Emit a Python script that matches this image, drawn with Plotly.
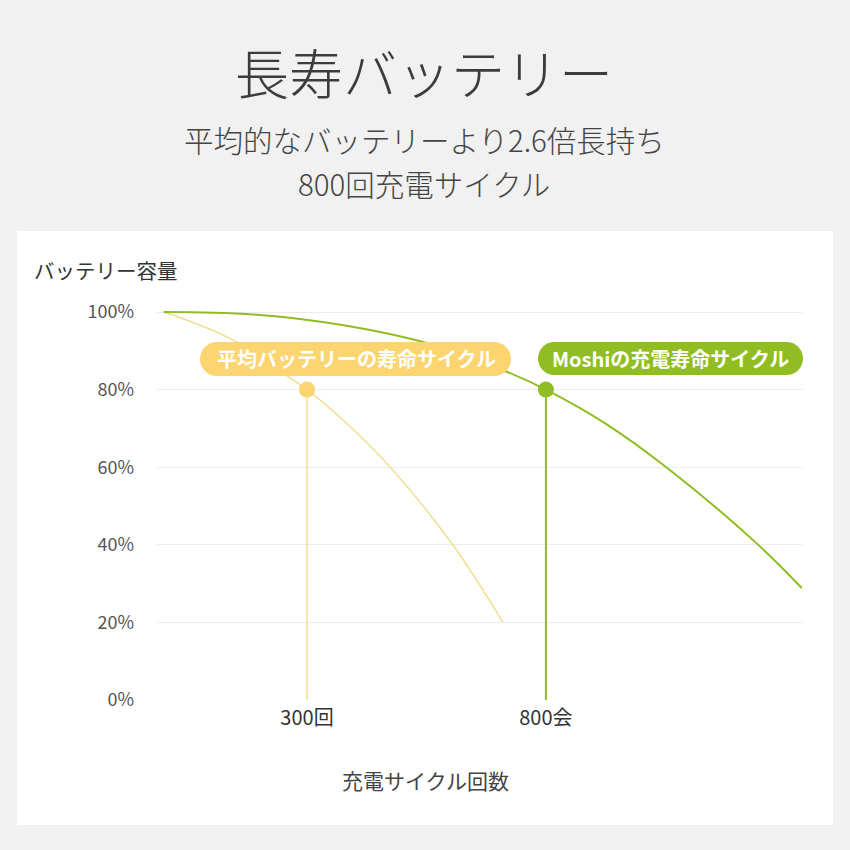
import plotly.graph_objects as go

# ---- data ----
y_ticks = [0, 20, 40, 60, 80, 100]
y_tick_labels = ["0%", "20%", "40%", "60%", "80%", "100%"]
x_ticks = [300, 800]
x_tick_labels = ["300回", "800会"]

avg_cycles = [0, 145, 264, 300, 390, 478, 605, 710]
avg_capacity = [100, 92.8, 83.0, 80, 70.5, 59.5, 40, 20]

moshi_cycles = [0, 250, 551, 718, 800, 928, 1052, 1240, 1336]
moshi_capacity = [100, 98.7, 92.0, 84.6, 80, 71.0, 60, 40.5, 28.8]

avg_life = 300
moshi_life = 800
life_capacity = 80

avg_label = "平均バッテリーの寿命サイクル"
moshi_label = "Moshiの充電寿命サイクル"

# ---- layout geometry ----
W = H = 850
ML, MR, MT, MB = 157, 48, 300, 150
PW = W - ML - MR
PH = H - MT - MB


def px(x):
    return (x - ML) / PW


def py(y):
    return (H - MB - y) / PH


FONT = "Noto Sans CJK JP, Noto Sans, sans-serif"
YELLOW = "#fcd470"
YELLOW_LINE = "#f2de93"
GREEN = "#8fbd22"

fig = go.Figure()

# drop lines
fig.add_trace(go.Scatter(x=[avg_life, avg_life], y=[life_capacity, 0], mode="lines",
                         line=dict(color=YELLOW_LINE, width=1.5), hoverinfo="skip"))
fig.add_trace(go.Scatter(x=[moshi_life, moshi_life], y=[life_capacity, 0], mode="lines",
                         line=dict(color=GREEN, width=2), hoverinfo="skip"))
# curves
fig.add_trace(go.Scatter(x=avg_cycles, y=avg_capacity, mode="lines",
                         line=dict(color=YELLOW_LINE, width=1.5, shape="spline", smoothing=1.1),
                         hoverinfo="skip"))
fig.add_trace(go.Scatter(x=moshi_cycles, y=moshi_capacity, mode="lines",
                         line=dict(color=GREEN, width=2, shape="spline", smoothing=1.1),
                         hoverinfo="skip"))
# dots
fig.add_trace(go.Scatter(x=[avg_life], y=[life_capacity], mode="markers",
                         marker=dict(color=YELLOW, size=16), hoverinfo="skip"))
fig.add_trace(go.Scatter(x=[moshi_life], y=[life_capacity], mode="markers",
                         marker=dict(color=GREEN, size=16), hoverinfo="skip"))


def pill_path(x0, y0, x1, y1):
    r = (y1 - y0) / 2
    k = 0.5523 * r

    def P(x, y):
        return f"{px(x):.5f},{py(y):.5f}"
    d = f"M {P(x0 + r, y0)} L {P(x1 - r, y0)} "
    d += f"C {P(x1 - r + k, y0)} {P(x1, y0 + r - k)} {P(x1, y0 + r)} "
    d += f"C {P(x1, y0 + r + k)} {P(x1 - r + k, y1)} {P(x1 - r, y1)} "
    d += f"L {P(x0 + r, y1)} "
    d += f"C {P(x0 + r - k, y1)} {P(x0, y0 + r + k)} {P(x0, y0 + r)} "
    d += f"C {P(x0, y0 + r - k)} {P(x0 + r - k, y0)} {P(x0 + r, y0)} Z"
    return d


shapes = [
    # white panel
    dict(type="rect", xref="paper", yref="paper", x0=px(17), x1=px(833), y0=py(825), y1=py(231),
         fillcolor="white", line=dict(width=0), layer="below"),
    dict(type="path", xref="paper", yref="paper", path=pill_path(200, 342, 511, 376),
         fillcolor=YELLOW, line=dict(width=0), layer="above"),
    dict(type="path", xref="paper", yref="paper", path=pill_path(538, 342, 803, 375),
         fillcolor=GREEN, line=dict(width=0), layer="above"),
]


def ann(text, x, y, size, color="#444", xanchor="center", weight=None):
    f = dict(family=FONT, size=size, color=color)
    if weight:
        f["weight"] = weight
    return dict(text=text, xref="paper", yref="paper", x=px(x), y=py(y), xanchor=xanchor,
                yanchor="middle", showarrow=False, font=f)


annotations = [
    ann("長寿バッテリー", 424, 72, 54, "#3c3c3c", weight=300),
    ann("平均的なバッテリーより2.6倍長持ち", 424, 139, 29.5, "#444", weight=300),
    ann("800回充電サイクル", 424, 183, 29.5, "#444", weight=300),
    ann("バッテリー容量", 32, 270, 20.5, "#333", xanchor="left"),
    ann("充電サイクル回数", 425, 780, 21, "#444"),
    ann(avg_label, 356, 358, 20, "white", weight=700),
    ann(moshi_label, 670, 358, 20, "white", weight=700),
]

fig.update_layout(
    width=W, height=H,
    margin=dict(l=ML, r=MR, t=MT, b=MB),
    paper_bgcolor="#f1f1f1",
    plot_bgcolor="white",
    showlegend=False,
    shapes=shapes,
    annotations=annotations,
    font=dict(family=FONT),
    xaxis=dict(range=[-14, 1336], tickvals=x_ticks, ticktext=x_tick_labels,
               showgrid=False, zeroline=False, showline=False,
               tickfont=dict(family=FONT, size=20, color="#333"), ticks="",
               ticklabelstandoff=4, fixedrange=True),
    yaxis=dict(range=[0, 103.1], tickvals=y_ticks, ticktext=y_tick_labels,
               showgrid=True, gridcolor="#ececec", gridwidth=1, zeroline=False, showline=False,
               tickfont=dict(family=FONT, size=18, color="#555"), ticks="",
               ticklabelstandoff=22, fixedrange=True),
)

fig.write_html("out.html", config={"displayModeBar": False})
